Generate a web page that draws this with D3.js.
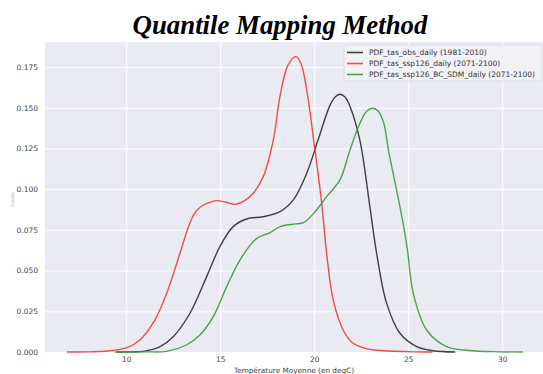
<!DOCTYPE html>
<html>
<head>
<meta charset="utf-8">
<script src="https://cdn.jsdelivr.net/npm/d3@7"></script>
<style>
  body { margin: 0; background: #fff; }
  svg { display: block; }
</style>
</head>
<body>
<div id="chart"></div>
<script>
//-----------------------------DATA-----------------------------//
const xTicks = [10, 15, 20, 25, 30];
const yTicks = [0, 0.025, 0.05, 0.075, 0.1, 0.125, 0.15, 0.175];
const seriesNames = [
  "PDF_tas_obs_daily (1981-2010)",
  "PDF_tas_ssp126_daily (2071-2100)",
  "PDF_tas_ssp126_BC_SDM_daily (2071-2100)"
];

// temperature / density pairs
const obsT = [9.5, 10.3, 10.9, 11.8, 12.5, 13.39, 14.28, 14.98, 15.69, 16.4, 17.29, 18.18, 18.89, 19.6, 20.2, 20.82, 21.1, 21.37, 21.65, 21.9, 22.43, 22.96, 23.32, 23.85, 24.56, 25.45, 26.3, 27.5];
const obsD = [0, 0.0001, 0.0004, 0.0033, 0.0094, 0.0238, 0.0463, 0.0647, 0.077, 0.0817, 0.0831, 0.0862, 0.0934, 0.1098, 0.130, 0.151, 0.1565, 0.1583, 0.1565, 0.151, 0.130, 0.0893, 0.0606, 0.030, 0.0115, 0.0033, 0.0008, 0];

const sspT = [6.85, 8.0, 9.0, 10.0, 10.73, 11.53, 12.15, 12.86, 13.3, 13.65, 14.0, 14.4, 14.81, 15.3, 15.78, 16.3, 16.76, 17.29, 17.82, 18.18, 18.6, 19.03, 19.3, 19.6, 20.04, 20.4, 20.66, 21.01, 21.54, 22.0, 22.43, 23.2, 24.2, 25.3, 26.3];
const sspD = [0, 0.0001, 0.0006, 0.0025, 0.0074, 0.0197, 0.036, 0.0606, 0.0765, 0.0855, 0.0895, 0.0918, 0.093, 0.092, 0.0907, 0.093, 0.0975, 0.1077, 0.130, 0.157, 0.176, 0.1814, 0.177, 0.161, 0.124, 0.0913, 0.0606, 0.032, 0.0135, 0.006, 0.0033, 0.0012, 0.0005, 0.0001, 0];

const bcT = [9.4, 11.0, 12.15, 13.2, 13.92, 14.63, 15.34, 16.05, 16.94, 17.65, 18.18, 18.54, 19.0, 19.43, 19.96, 20.66, 21.37, 21.9, 22.43, 22.8, 23.1, 23.4, 23.7, 23.95, 24.38, 24.73, 24.96, 25.27, 25.98, 27.04, 28.4, 29.5, 31.1];
const bcD = [0, 0.0001, 0.0004, 0.0043, 0.0104, 0.0217, 0.040, 0.0565, 0.0698, 0.0733, 0.077, 0.078, 0.0787, 0.0794, 0.085, 0.0954, 0.1057, 0.124, 0.1405, 0.148, 0.1497, 0.148, 0.1405, 0.124, 0.0995, 0.079, 0.0627, 0.036, 0.0135, 0.0033, 0.0008, 0.0002, 0];

const colors = ["#2e2e2e", "#f03a3a", "#3d9a3d"];

//-----------------------------SVG------------------------------//
const width = 543;
const height = 374;
const plot = { left: 45, top: 42, right: 543, bottom: 352 };

const svg = d3.select("#chart").append("svg")
  .attr("width", width)
  .attr("height", height);

//----------------------------SCALES----------------------------//
const xScale = d3.scaleLinear().domain([5.68, 32.17]).range([plot.left, plot.right]);
const yScale = d3.scaleLinear().domain([0, 0.1904]).range([plot.bottom, plot.top]);

// background
svg.append("rect")
  .attr("x", plot.left)
  .attr("y", plot.top)
  .attr("width", plot.right - plot.left)
  .attr("height", plot.bottom - plot.top)
  .style("fill", "#eaeaf2");

//----------------------------GRID------------------------------//
svg.append("g")
  .attr("transform", "translate(0," + plot.bottom + ")")
  .call(d3.axisBottom(xScale).tickValues(xTicks).tickSize(-(plot.bottom - plot.top)).tickFormat(""))
  .call(g => g.select(".domain").remove())
  .selectAll("line")
  .style("stroke", "#fff")
  .style("stroke-width", 1);

svg.append("g")
  .attr("transform", "translate(" + plot.left + ",0)")
  .call(d3.axisLeft(yScale).tickValues(yTicks).tickSize(-(plot.right - plot.left)).tickFormat(""))
  .call(g => g.select(".domain").remove())
  .selectAll("line")
  .style("stroke", "#fff")
  .style("stroke-width", 1);

//-----------------------------AXES-----------------------------//
const xaxis = svg.append("g")
  .attr("transform", "translate(0," + plot.bottom + ")")
  .call(d3.axisBottom(xScale).tickValues(xTicks).tickSize(0).tickPadding(5).tickFormat(d3.format("d")));
xaxis.select(".domain").remove();
xaxis.selectAll("text")
  .style("font-family", "DejaVu Sans")
  .style("font-size", "7.5px")
  .style("fill", "#444");

const yaxis = svg.append("g")
  .attr("transform", "translate(" + plot.left + ",0)")
  .call(d3.axisLeft(yScale).tickValues(yTicks).tickSize(0).tickPadding(7).tickFormat(d3.format(".3f")));
yaxis.select(".domain").remove();
yaxis.selectAll("text")
  .style("font-family", "DejaVu Sans")
  .style("font-size", "7.5px")
  .style("fill", "#444");

svg.append("text")
  .attr("x", (plot.left + plot.right) / 2)
  .attr("y", 373)
  .attr("text-anchor", "middle")
  .style("font-family", "DejaVu Sans")
  .style("font-size", "7.3px")
  .style("fill", "#444")
  .text("Température Moyenne (en degC)");

// faint y label
svg.append("text")
  .attr("transform", "translate(14,200) rotate(-90)")
  .attr("text-anchor", "middle")
  .style("font-family", "DejaVu Sans")
  .style("font-size", "4px")
  .style("fill", "#aaa")
  .text("Density");

//----------------------------LINES-----------------------------//
const slices = [
  { id: seriesNames[0], values: obsT.map((t, i) => ({ t: t, d: obsD[i] })) },
  { id: seriesNames[1], values: sspT.map((t, i) => ({ t: t, d: sspD[i] })) },
  { id: seriesNames[2], values: bcT.map((t, i) => ({ t: t, d: bcD[i] })) }
];

const line = d3.line()
  .x(d => xScale(d.t))
  .y(d => Math.min(yScale(d.d), plot.bottom))
  .curve(d3.curveCatmullRom.alpha(0.5));

svg.selectAll(".series")
  .data(slices)
  .enter()
  .append("path")
  .attr("class", "series")
  .attr("d", d => line(d.values))
  .style("fill", "none")
  .style("stroke", (d, i) => colors[i])
  .style("stroke-width", 1.4)
  .style("opacity", 0.9);

//----------------------------LEGEND----------------------------//
const legend = svg.append("g").attr("transform", "translate(344,45)");
legend.append("rect")
  .attr("width", 198)
  .attr("height", 36)
  .attr("rx", 2)
  .style("fill", "#f1f1f6")
  .style("stroke", "#d9d9e2")
  .style("stroke-width", 0.8);

seriesNames.forEach(function(name, i) {
  const y = 7.5 + i * 11;
  legend.append("line")
    .attr("x1", 3).attr("x2", 19)
    .attr("y1", y).attr("y2", y)
    .style("stroke", colors[i])
    .style("stroke-width", 1.6)
    .style("opacity", 0.9);
  legend.append("text")
    .attr("x", 25)
    .attr("y", y + 2.7)
    .style("font-family", "DejaVu Sans")
    .style("font-size", "7.5px")
    .style("fill", "#333")
    .text(name);
});

//----------------------------TITLE-----------------------------//
svg.append("text")
  .attr("x", 280)
  .attr("y", 34)
  .attr("text-anchor", "middle")
  .style("font-family", "Liberation Serif")
  .style("font-weight", "bold")
  .style("font-style", "italic")
  .style("font-size", "26.8px")
  .style("fill", "#000")
  .text("Quantile Mapping Method");
</script>
</body>
</html>
